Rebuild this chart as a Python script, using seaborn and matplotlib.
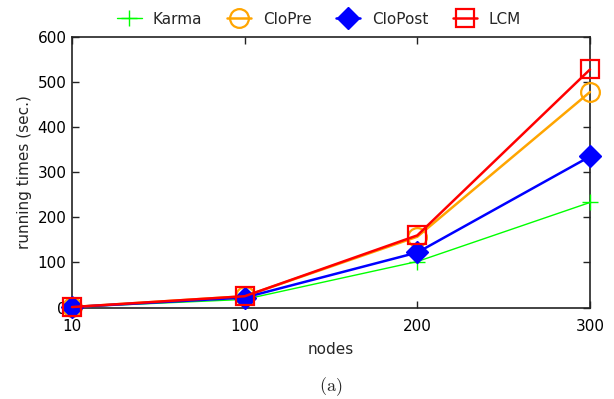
import matplotlib
matplotlib.use("Agg")
import matplotlib.pyplot as plt
import seaborn as sns
import pandas as pd

nodes = ["10", "100", "200", "300"]
karma = [1, 18, 102, 233]
clopre = [1, 25, 157, 478]
clopost = [1, 22, 122, 335]
lcm = [1, 25, 160, 528]

series = ["Karma", "CloPre", "CloPost", "LCM"]
values = [karma, clopre, clopost, lcm]

rows = []
for name, vals in zip(series, values):
    for i, v in enumerate(vals):
        rows.append({"pos": i, "nodes": nodes[i], "algo": name, "time": v})
df = pd.DataFrame(rows)

sns.set_theme(style="ticks")
plt.rcParams["font.family"] = ["DejaVu Sans"]
plt.rcParams["mathtext.fontset"] = "cm"

styles = {
    "Karma":   dict(color="#00ff00", marker="+", ms=12, mew=1.0, lw=1.0, mfc="none"),
    "CloPre":  dict(color="#ffa500", marker="o", ms=13.5, mew=1.6, lw=1.8, mfc="none"),
    "CloPost": dict(color="#0000ff", marker="D", ms=11.5, mew=1.0, lw=1.8, mfc="#0000ff"),
    "LCM":     dict(color="#ff0000", marker="s", ms=13, mew=1.6, lw=1.8, mfc="none"),
}

fig = plt.figure(figsize=(6.14, 3.99), dpi=100)
ax = fig.add_axes([72 / 614, 1 - 307.5 / 399, (590 - 72) / 614, (307.5 - 37) / 399])

for name in series:
    st = styles[name]
    sub = df[df["algo"] == name]
    sns.lineplot(data=sub, x="pos", y="time", ax=ax, color=st["color"],
                 linewidth=st["lw"], marker=st["marker"], markersize=st["ms"],
                 markeredgewidth=st["mew"], markerfacecolor=st["mfc"],
                 markeredgecolor=st["color"], label=name, clip_on=False, zorder=3)

ax.set_xlim(0, 3)
ax.set_ylim(0, 600)
ax.set_xticks(range(len(nodes)))
ax.set_xticklabels(nodes)
ax.set_yticks([0, 100, 200, 300, 400, 500, 600])
ax.tick_params(direction="in", top=True, right=True, length=5, width=1,
               labelsize=11, colors="#222222", labelcolor="black")
ax.tick_params(axis="x", pad=8)
ax.tick_params(axis="y", pad=4)
for s in ax.spines.values():
    s.set_linewidth(1.2)
    s.set_color("#222222")
    s.set_visible(True)

ax.set_xlabel("nodes", fontsize=11, labelpad=6)
ax.set_ylabel("running times (sec.)", fontsize=11, labelpad=4)

ax.legend(loc="center", bbox_to_anchor=(0.5 - 12 / 518, 1 + 18 / 270.5), ncol=4,
          frameon=False, fontsize=11, handlelength=1.6, handletextpad=0.75,
          columnspacing=1.6, borderaxespad=0.0, markerscale=1.0)

fig.text(0.5 * (72 + 590) / 614, 1 - 387 / 399, r"$\mathrm{(a)}$",
         ha="center", va="center", fontsize=13)

fig.savefig("out.png", dpi=100)
